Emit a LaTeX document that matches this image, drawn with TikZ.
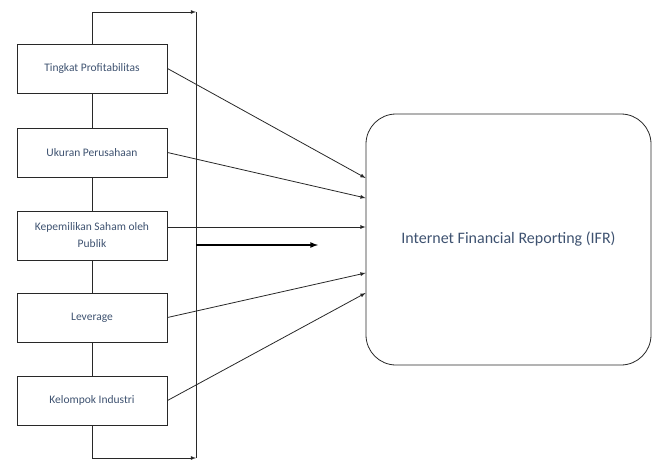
\documentclass[tikz,border=0pt]{standalone}
\usepackage{fontspec}
\setmainfont{Carlito}
\usepackage{tikz}
\definecolor{textblue}{RGB}{62,82,112}
\definecolor{linegray}{RGB}{40,40,40}
\tikzstyle{box_var} = [rectangle, draw=linegray, line width=1pt, minimum width=150pt, minimum height=49pt, inner sep=2pt, align=center, text=textblue, font=\fontsize{11.5}{17}\selectfont]
\tikzstyle{box_ifr} = [rectangle, draw=linegray, line width=0.8pt, rounded corners=30pt, minimum width=285pt, minimum height=251pt, text=textblue, font=\fontsize{16}{19}\selectfont]
\tikzstyle{edge_normal} = [draw=linegray, line width=0.8pt]
\tikzstyle{edge_arrow} = [edge_normal, ->, >=latex]
\tikzstyle{edge_bold} = [draw=black, line width=1.6pt, ->, >=latex]

\begin{document}
\begin{tikzpicture}[x=1pt, y=-1pt]
			\useasboundingbox (0,0) rectangle (659,463);
			\node (P1) at (92,68.5) [box_var] {Tingkat Profitabilitas};
			\node (P2) at (92,152.5) [box_var] {Ukuran Perusahaan};
			\node (P3) at (92,235.5) [box_var] {Kepemilikan Saham oleh\\Publik};
			\node (P4) at (92,317.5) [box_var] {Leverage};
			\node (P5) at (92,400.5) [box_var] {Kelompok Industri};
			\node (IFR) at (508.5,239.5) [box_ifr] {Internet Financial Reporting (IFR)};
			
			\coordinate (top) at (196,12);
			\coordinate (bot) at (196,458);
			\coordinate (mid) at (196,245);
			\coordinate (midend) at (318,245);
			
			\draw[edge_normal] (P1)--(P2) (P2)--(P3) (P3)--(P4) (P4)--(P5);
			\draw[edge_arrow] (P1.north) |- (top);
			\draw[edge_arrow] (P5.south) |- (bot);
			\draw[edge_normal] (top)--(bot);
			\draw[edge_bold] (mid)--(midend);
			
			\draw[edge_arrow] (P1.east)--([yshift=61.5pt]IFR.west);
			\draw[edge_arrow] (P2.east)--([yshift=41.5pt]IFR.west);
			\draw[edge_arrow] ([yshift=8.5pt]P3.east)--([yshift=12.5pt]IFR.west);
			\draw[edge_arrow] (P4.east)--([yshift=-33.5pt]IFR.west);
			\draw[edge_arrow] (P5.east)--([yshift=-53.5pt]IFR.west);
		\end{tikzpicture}
\end{document}
